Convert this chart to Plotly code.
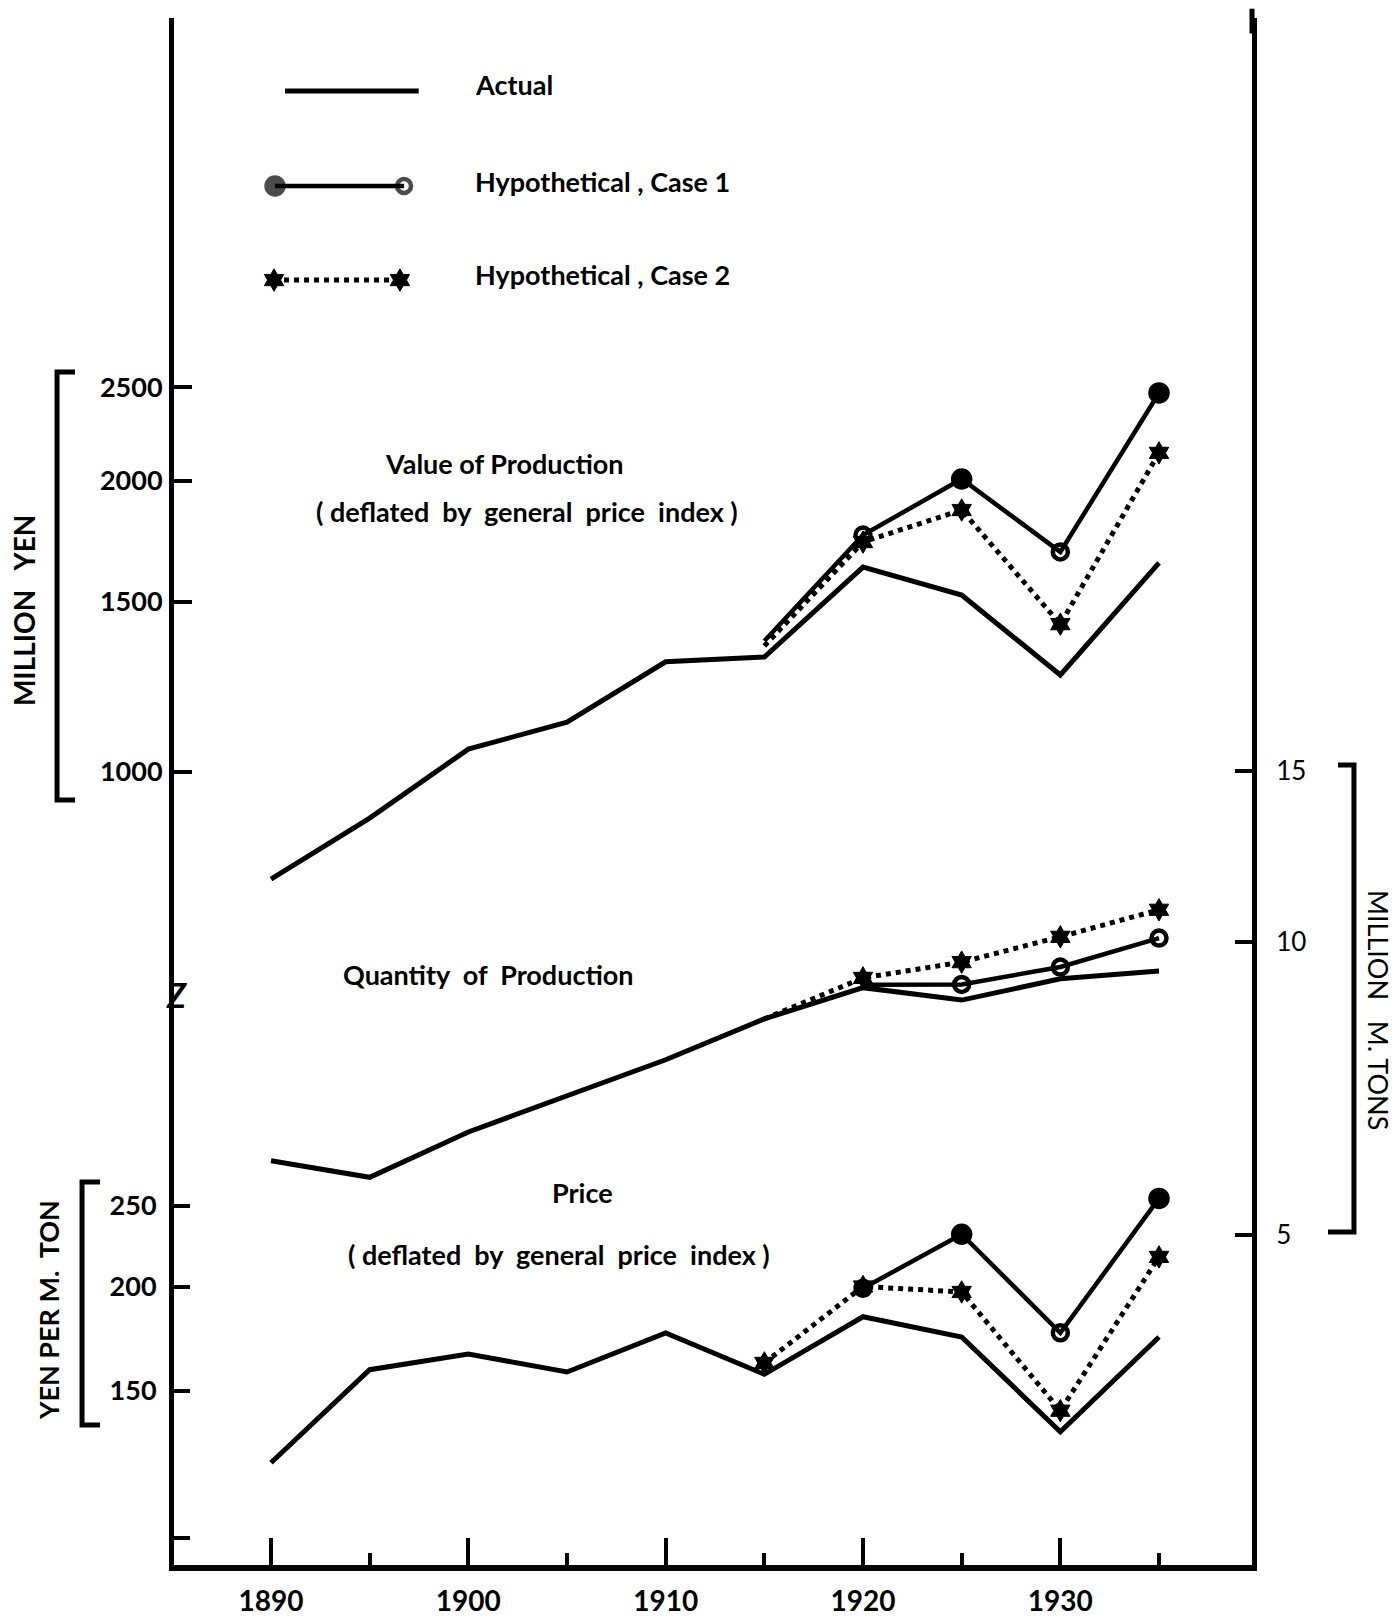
import plotly.graph_objects as go

# ---------------- data ----------------
years = [1890, 1895, 1900, 1905, 1910, 1915, 1920, 1925, 1930, 1935]
years_case_value = [1915, 1920, 1925, 1930, 1935]
years_case1_short = [1920, 1925, 1930, 1935]
years_case2 = [1915, 1920, 1925, 1930, 1935]

# Value of production, million yen (deflated)
value_actual = [775, 896, 1056, 1126, 1300, 1315, 1629, 1524, 1260, 1645]
value_case1 = [1366, 1758, 2009, 1689, 2466]
value_case2 = [1350, 1729, 1866, 1422, 2138]

# Quantity of production, million metric tons
qty_actual = [5.96, 5.73, 6.38, 6.95, 7.57, 8.34, 8.98, 8.72, 9.17, 9.34]
qty_case1 = [9.04, 9.05, 9.43, 10.10]
qty_case2 = [8.34, 9.19, 9.54, 10.13, 10.80]

# Price, yen per metric ton (deflated)
price_actual = [123, 159, 166, 158, 176, 157, 184, 174, 134, 174]
price_case1 = [199, 231, 176, 255]
price_case2 = [162, 200, 197, 142, 217]

value_ticks = [1000, 1500, 2000, 2500]
price_ticks = [100, 150, 200, 250]
price_ticktext = ["", "150", "200", "250"]
qty_ticks = [5, 10, 15]
x_ticks = [1890, 1900, 1910, 1920, 1930]

legend_labels = ["Actual", "Hypothetical , Case 1", "Hypothetical , Case 2"]

# ---------------- styles ----------------
FONT = "Lato"
BLACK = "black"
LW_ACT = 5
LW_C1 = 4.5
LW_C2 = 5
STAR = "hexagram"

fig = go.Figure()

def actual(x, y, axis):
    fig.add_trace(go.Scatter(x=x, y=y, yaxis=axis, mode="lines",
                             line=dict(color=BLACK, width=LW_ACT), showlegend=False))

def case1(x, y, axis, symbols, sizes):
    fig.add_trace(go.Scatter(x=x, y=y, yaxis=axis, mode="lines+markers",
                             line=dict(color=BLACK, width=LW_C1),
                             marker=dict(symbol=symbols, size=sizes, color=BLACK, opacity=1,
                                         line=dict(color=BLACK, width=4.5)),
                             showlegend=False))

def case2(x, y, axis, sizes):
    fig.add_trace(go.Scatter(x=x, y=y, yaxis=axis, mode="lines+markers",
                             line=dict(color=BLACK, width=LW_C2, dash="dot"),
                             marker=dict(symbol=STAR, size=sizes, color=BLACK, opacity=1,
                                         line=dict(color=BLACK, width=1)),
                             showlegend=False))

# Value of production (left log axis y)
actual(years, value_actual, "y")
case2(years_case2, value_case2, "y", [0, 17, 17, 17, 17])
case1(years_case_value, value_case1, "y",
      ["circle", "circle-open", "circle", "circle-open", "circle"], [0, 15, 17, 15, 17])

# Quantity (right log axis y3)
actual(years, qty_actual, "y3")
case2(years_case2, qty_case2, "y3", [0, 17, 17, 17, 17])
case1(years_case1_short, qty_case1, "y3",
      ["circle-open", "circle-open", "circle-open", "circle-open"], [0, 15, 15, 15])

# Price (left log axis y2)
actual(years, price_actual, "y2")
case2(years_case2, price_case2, "y2", [17, 17, 17, 17, 17])
case1(years_case1_short, price_case1, "y2",
      ["circle-open", "circle", "circle-open", "circle"], [15, 17, 15, 17])

# ---------------- legend (drawn in plot-area fractions) ----------------
leg_y = [0.9528, 0.8914, 0.8306]
fig.add_trace(go.Scatter(x=[0.103, 0.227], y=[leg_y[0]] * 2, xaxis="x2", yaxis="y4",
                         mode="lines", line=dict(color=BLACK, width=LW_ACT), showlegend=False))
fig.add_trace(go.Scatter(x=[0.0937, 0.2134], y=[leg_y[1]] * 2, xaxis="x2", yaxis="y4",
                         mode="lines+markers", line=dict(color=BLACK, width=LW_C1),
                         marker=dict(symbol=["circle", "circle-open"], size=[17, 14], color=BLACK,
                                     line=dict(color=BLACK, width=4.5)), showlegend=False))
fig.add_trace(go.Scatter(x=[0.0928, 0.2096], y=[leg_y[2]] * 2, xaxis="x2", yaxis="y4",
                         mode="lines+markers", line=dict(color=BLACK, width=LW_C2, dash="dot"),
                         marker=dict(symbol=STAR, size=17, color=BLACK,
                                     line=dict(color=BLACK, width=1)), showlegend=False))

annotations = []
for lab, yy in zip(legend_labels, [0.9567, 0.8946, 0.8345]):
    annotations.append(dict(text="<b>%s</b>" % lab, x=0.2774, y=yy, xref="paper", yref="paper",
                            xanchor="left", yanchor="middle", showarrow=False,
                            font=dict(family=FONT, size=27, color=BLACK)))

def note(text, x, y, size=27, angle=0, bold=True):
    annotations.append(dict(text=("<b>%s</b>" % text) if bold else text, x=x, y=y,
                            xref="paper", yref="paper", xanchor="center", yanchor="middle",
                            showarrow=False, textangle=angle,
                            font=dict(family=FONT, size=size, color=BLACK)))

note("Value of Production", 0.307, 0.7123)
note("( deflated  by  general  price  index )", 0.3275, 0.6807)
note("Quantity  of  Production", 0.2922, 0.3814)
note("Price", 0.3794, 0.2411)
note("( deflated  by  general  price  index )", 0.3571, 0.2010)
note("MILLION   YEN", -0.139, 0.6167, size=28, angle=-90)
note("YEN PER M.  TON", -0.1169, 0.1648, size=27, angle=-90)
note("MILLION   M. TONS", 1.1169, 0.3588, size=27, angle=90, bold=False)
note("<i>Z</i>", 0.0019, 0.369, size=34)

shapes = [
    dict(type="path", xref="paper", yref="paper",
         path="M -0.0918,0.7712 L -0.1085,0.7712 L -0.1085,0.4945 L -0.0918,0.4945",
         line=dict(color=BLACK, width=5)),
    dict(type="path", xref="paper", yref="paper",
         path="M -0.0686,0.2476 L -0.0853,0.2476 L -0.0853,0.0905 L -0.0686,0.0905",
         line=dict(color=BLACK, width=5)),
    dict(type="path", xref="paper", yref="paper",
         path="M 1.0798,0.5171 L 1.0946,0.5171 L 1.0946,0.2153 L 1.0705,0.2153",
         line=dict(color=BLACK, width=5)),
    # right axis line continues a little above the plotting area
    dict(type="line", xref="paper", yref="paper", x0=1.0, x1=1.0, y0=0.99, y1=1.006,
         line=dict(color=BLACK, width=5)),
]

axis_common = dict(showgrid=False, zeroline=False, color=BLACK, linecolor=BLACK,
                   tickcolor=BLACK, ticks="inside", tickwidth=3.5, automargin=False)

fig.update_layout(
    width=1395, height=1623,
    margin=dict(l=174, r=143, t=18, b=58, autoexpand=False),
    paper_bgcolor="white", plot_bgcolor="white",
    showlegend=False,
    annotations=annotations, shapes=shapes,
    xaxis=dict(range=[1885.084, 1939.713], tickvals=x_ticks, ticklen=27,
               showline=True, linewidth=6, anchor="y",
               minor=dict(ticks="inside", tick0=1890, dtick=5, ticklen=12,
                          tickwidth=3.5, tickcolor=BLACK, showgrid=False),
               tickfont=dict(family=FONT, size=28, color=BLACK, weight="bold"),
               ticklabelstandoff=6, **axis_common),
    yaxis=dict(type="log", range=[2.17994, 3.77973], tickvals=value_ticks,
               ticktext=[str(v) for v in value_ticks], ticklen=18,
               showline=True, linewidth=5, side="left", anchor="x",
               tickfont=dict(family=FONT, size=27, color=BLACK, weight="bold"),
               ticklabelstandoff=1, **axis_common),
    yaxis2=dict(type="log", range=[1.9675, 3.8202], tickvals=price_ticks,
                ticktext=price_ticktext, ticklen=16, overlaying="y",
                showline=True, linewidth=5, side="left", anchor="x",
                tickfont=dict(family=FONT, size=27, color=BLACK, weight="bold"),
                ticklabelstandoff=7, **axis_common),
    yaxis3=dict(type="log", range=[0.3593, 1.9509], tickvals=qty_ticks,
                ticktext=[str(v) for v in qty_ticks], ticklen=17, overlaying="y",
                showline=True, linewidth=5, side="right", anchor="x",
                tickfont=dict(family=FONT, size=26, color=BLACK),
                ticklabelstandoff=14, **axis_common),
    xaxis2=dict(range=[0, 1], visible=False, overlaying="x", anchor="y4"),
    yaxis4=dict(range=[0, 1], visible=False, overlaying="y", anchor="x2"),
)

fig.write_html("out.html", config={"displayModeBar": False},
               post_script="document.body.style.margin='0';document.body.style.overflow='hidden';")
